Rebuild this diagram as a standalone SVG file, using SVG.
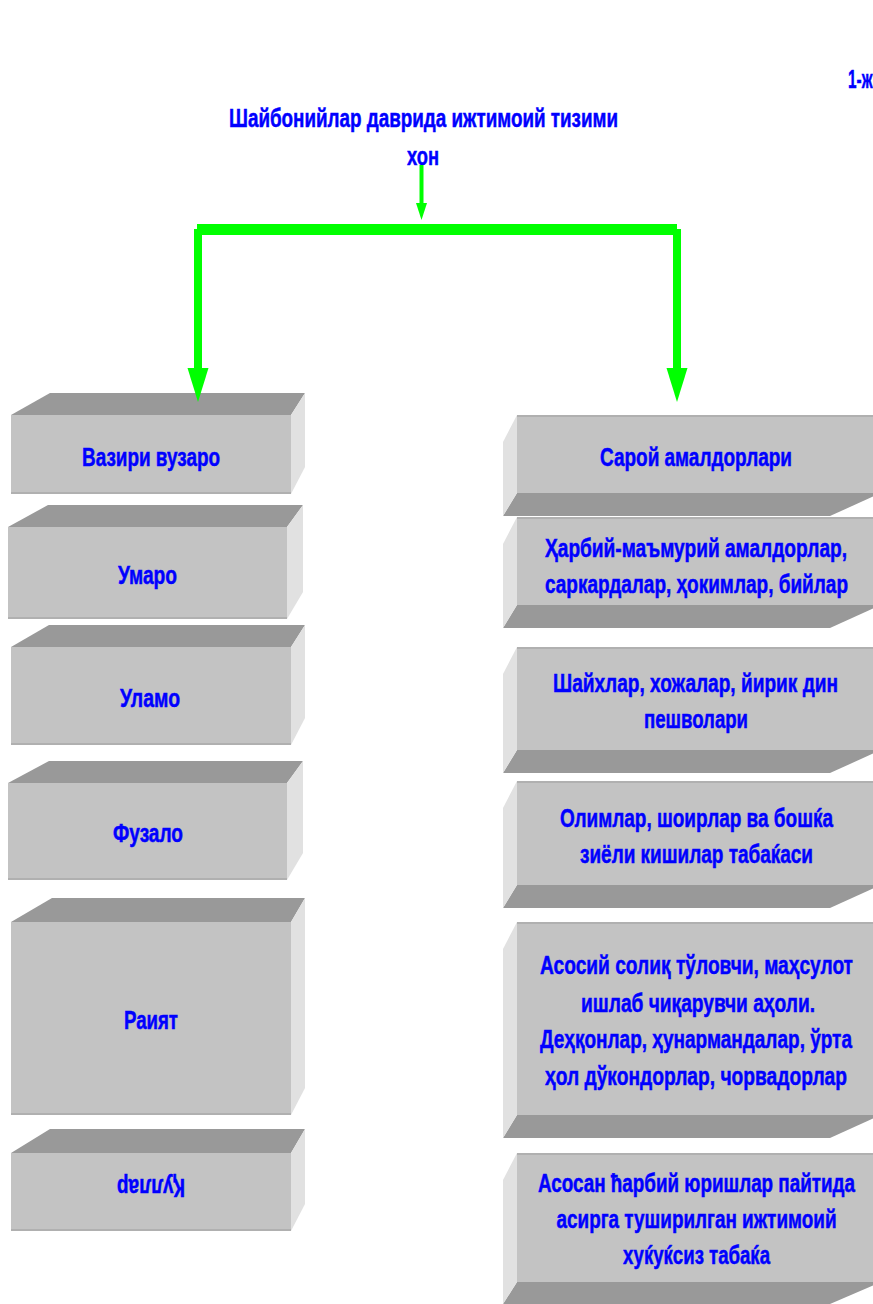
<svg xmlns="http://www.w3.org/2000/svg" width="873" height="1304" viewBox="0 0 873 1304">
<style>
.top{fill:#999999}
.front{fill:#c3c3c3}
.side{fill:#e1e1e1}
.edge{fill:#b0b0b0}
.lbl{font-family:"Liberation Sans Narrow","Liberation Sans",Arial,sans-serif;font-weight:bold;font-size:25px;fill:#0000ff;stroke:#0000ff;stroke-width:0.5px;text-anchor:middle}
.conn{fill:#00ff00}
</style>
<rect x="0" y="0" width="873" height="1304" fill="#ffffff"/>
<g id="title">
<text class="lbl" x="423.5" y="127" textLength="389" lengthAdjust="spacingAndGlyphs">Шайбонийлар даврида ижтимоий тизими</text>
<text class="lbl" x="848" y="88" style="text-anchor:start" textLength="24.5" lengthAdjust="spacingAndGlyphs">1-ж</text>
</g>
<g id="khon">
<text class="lbl" x="423" y="165" textLength="32" lengthAdjust="spacingAndGlyphs">хон</text>
</g>
<g id="vaziri-vuzaro">
<polygon class="top" points="11,415 50,393 305,393 291,415"/>
<polygon class="side" points="291,415 305,393 305,467 291,494"/>
<rect class="front" x="11" y="415" width="280" height="79"/>
<rect class="edge" x="11" y="492" width="280" height="2"/>
<text class="lbl" x="151" y="466" textLength="138" lengthAdjust="spacingAndGlyphs">Вазири вузаро</text>
</g>
<g id="umaro">
<polygon class="top" points="8,527 48,505 303,505 287,527"/>
<polygon class="side" points="287,527 303,505 303,592 287,619"/>
<rect class="front" x="8" y="527" width="279" height="92"/>
<rect class="edge" x="8" y="617" width="279" height="2"/>
<text class="lbl" x="147.5" y="584" textLength="59" lengthAdjust="spacingAndGlyphs">Умаро</text>
</g>
<g id="ulamo">
<polygon class="top" points="11,647 49,625 305,625 291,647"/>
<polygon class="side" points="291,647 305,625 305,718 291,745"/>
<rect class="front" x="11" y="647" width="280" height="98"/>
<rect class="edge" x="11" y="743" width="280" height="2"/>
<text class="lbl" x="150" y="707" textLength="60" lengthAdjust="spacingAndGlyphs">Уламо</text>
</g>
<g id="fuzalo">
<polygon class="top" points="8,783 49,761 303,761 287,783"/>
<polygon class="side" points="287,783 303,761 303,853 287,880"/>
<rect class="front" x="8" y="783" width="279" height="97"/>
<rect class="edge" x="8" y="878" width="279" height="2"/>
<text class="lbl" x="148" y="842" textLength="70" lengthAdjust="spacingAndGlyphs">Фузало</text>
</g>
<g id="raiyat">
<polygon class="top" points="11,922 52,898 305,898 291,922"/>
<polygon class="side" points="291,922 305,898 305,1088 291,1115"/>
<rect class="front" x="11" y="922" width="280" height="193"/>
<rect class="edge" x="11" y="1113" width="280" height="2"/>
<text class="lbl" x="151" y="1029" textLength="54" lengthAdjust="spacingAndGlyphs">Раият</text>
</g>
<g id="qullar">
<polygon class="top" points="11,1153 50,1129 305,1129 291,1153"/>
<polygon class="side" points="291,1153 305,1129 305,1204 291,1231"/>
<rect class="front" x="11" y="1153" width="280" height="78"/>
<rect class="edge" x="11" y="1229" width="280" height="2"/>
<text class="lbl" x="151" y="1197" transform="rotate(180 151 1188)" textLength="68" lengthAdjust="spacingAndGlyphs">Қуллар</text>
</g>
<g id="saroy">
<rect class="front" x="517" y="415" width="356" height="78"/>
<rect class="edge" x="517" y="415" width="356" height="2"/>
<polygon class="top" points="517,493 503,516 830,516 873,496.6 873,493"/>
<polygon class="side" points="517,415 503,442 503,516 517,493"/>
<text class="lbl" x="696" y="465.7" textLength="192" lengthAdjust="spacingAndGlyphs">Сарой амалдорлари</text>
</g>
<g id="harbiy">
<rect class="front" x="517" y="517" width="356" height="88"/>
<rect class="edge" x="517" y="517" width="356" height="2"/>
<polygon class="top" points="517,605 503,628 830,628 873,608.6 873,605"/>
<polygon class="side" points="517,517 503,544 503,628 517,605"/>
<text class="lbl" x="696" y="556.5" textLength="302" lengthAdjust="spacingAndGlyphs">Ҳарбий-маъмурий амалдорлар,</text>
<text class="lbl" x="696.5" y="593" textLength="303" lengthAdjust="spacingAndGlyphs">саркардалар, ҳокимлар, бийлар</text>
</g>
<g id="shayxlar">
<rect class="front" x="517" y="647" width="356" height="103"/>
<rect class="edge" x="517" y="647" width="356" height="2"/>
<polygon class="top" points="517,750 503,773 830,773 873,753.6 873,750"/>
<polygon class="side" points="517,647 503,674 503,773 517,750"/>
<text class="lbl" x="695.5" y="691.7" textLength="285" lengthAdjust="spacingAndGlyphs">Шайхлар, хожалар, йирик дин</text>
<text class="lbl" x="696" y="727.5" textLength="104" lengthAdjust="spacingAndGlyphs">пешволари</text>
</g>
<g id="olimlar">
<rect class="front" x="517" y="781" width="356" height="104"/>
<rect class="edge" x="517" y="781" width="356" height="2"/>
<polygon class="top" points="517,885 503,908 830,908 873,888.6 873,885"/>
<polygon class="side" points="517,781 503,808 503,908 517,885"/>
<text class="lbl" x="696.5" y="826.7" textLength="273" lengthAdjust="spacingAndGlyphs">Олимлар, шоирлар ва бошќа</text>
<text class="lbl" x="696.5" y="862.7" textLength="233" lengthAdjust="spacingAndGlyphs">зиёли кишилар табаќаси</text>
</g>
<g id="asosiy">
<rect class="front" x="517" y="922" width="356" height="193"/>
<rect class="edge" x="517" y="922" width="356" height="2"/>
<polygon class="top" points="517,1115 503,1138 830,1138 873,1118.6 873,1115"/>
<polygon class="side" points="517,922 503,949 503,1138 517,1115"/>
<text class="lbl" x="696.5" y="974.3" textLength="313" lengthAdjust="spacingAndGlyphs">Асосий солиқ тўловчи, маҳсулот</text>
<text class="lbl" x="698" y="1011.7" textLength="234" lengthAdjust="spacingAndGlyphs">ишлаб чиқарувчи аҳоли.</text>
<text class="lbl" x="696" y="1048.3" textLength="312" lengthAdjust="spacingAndGlyphs">Деҳқонлар, ҳунармандалар, ўрта</text>
<text class="lbl" x="696" y="1085" textLength="302" lengthAdjust="spacingAndGlyphs">ҳол дўкондорлар, чорвадорлар</text>
</g>
<g id="asosan">
<rect class="front" x="517" y="1153" width="356" height="129"/>
<rect class="edge" x="517" y="1153" width="356" height="2"/>
<polygon class="top" points="517,1282 503,1304 830,1304 873,1285.6 873,1282"/>
<polygon class="side" points="517,1153 503,1180 503,1304 517,1282"/>
<text class="lbl" x="696.5" y="1191.7" textLength="317" lengthAdjust="spacingAndGlyphs">Асосан ћарбий юришлар пайтида</text>
<text class="lbl" x="696.5" y="1228.3" textLength="280" lengthAdjust="spacingAndGlyphs">асирга туширилган ижтимоий</text>
<text class="lbl" x="696.5" y="1264" textLength="147" lengthAdjust="spacingAndGlyphs">хуќуќсиз табаќа</text>
</g>
<g id="connectors">
<rect class="conn" x="419.5" y="165" width="4" height="39"/>
<polygon class="conn" points="416,203 427,203 421.5,220"/>
<rect class="conn" x="197" y="224" width="480" height="11"/>
<rect class="conn" x="194" y="229" width="8" height="140"/>
<polygon class="conn" points="187.5,368 208.5,368 198,402"/>
<rect class="conn" x="673" y="229" width="8" height="140"/>
<polygon class="conn" points="666.5,368 687.5,368 677,402"/>
</g>
</svg>
